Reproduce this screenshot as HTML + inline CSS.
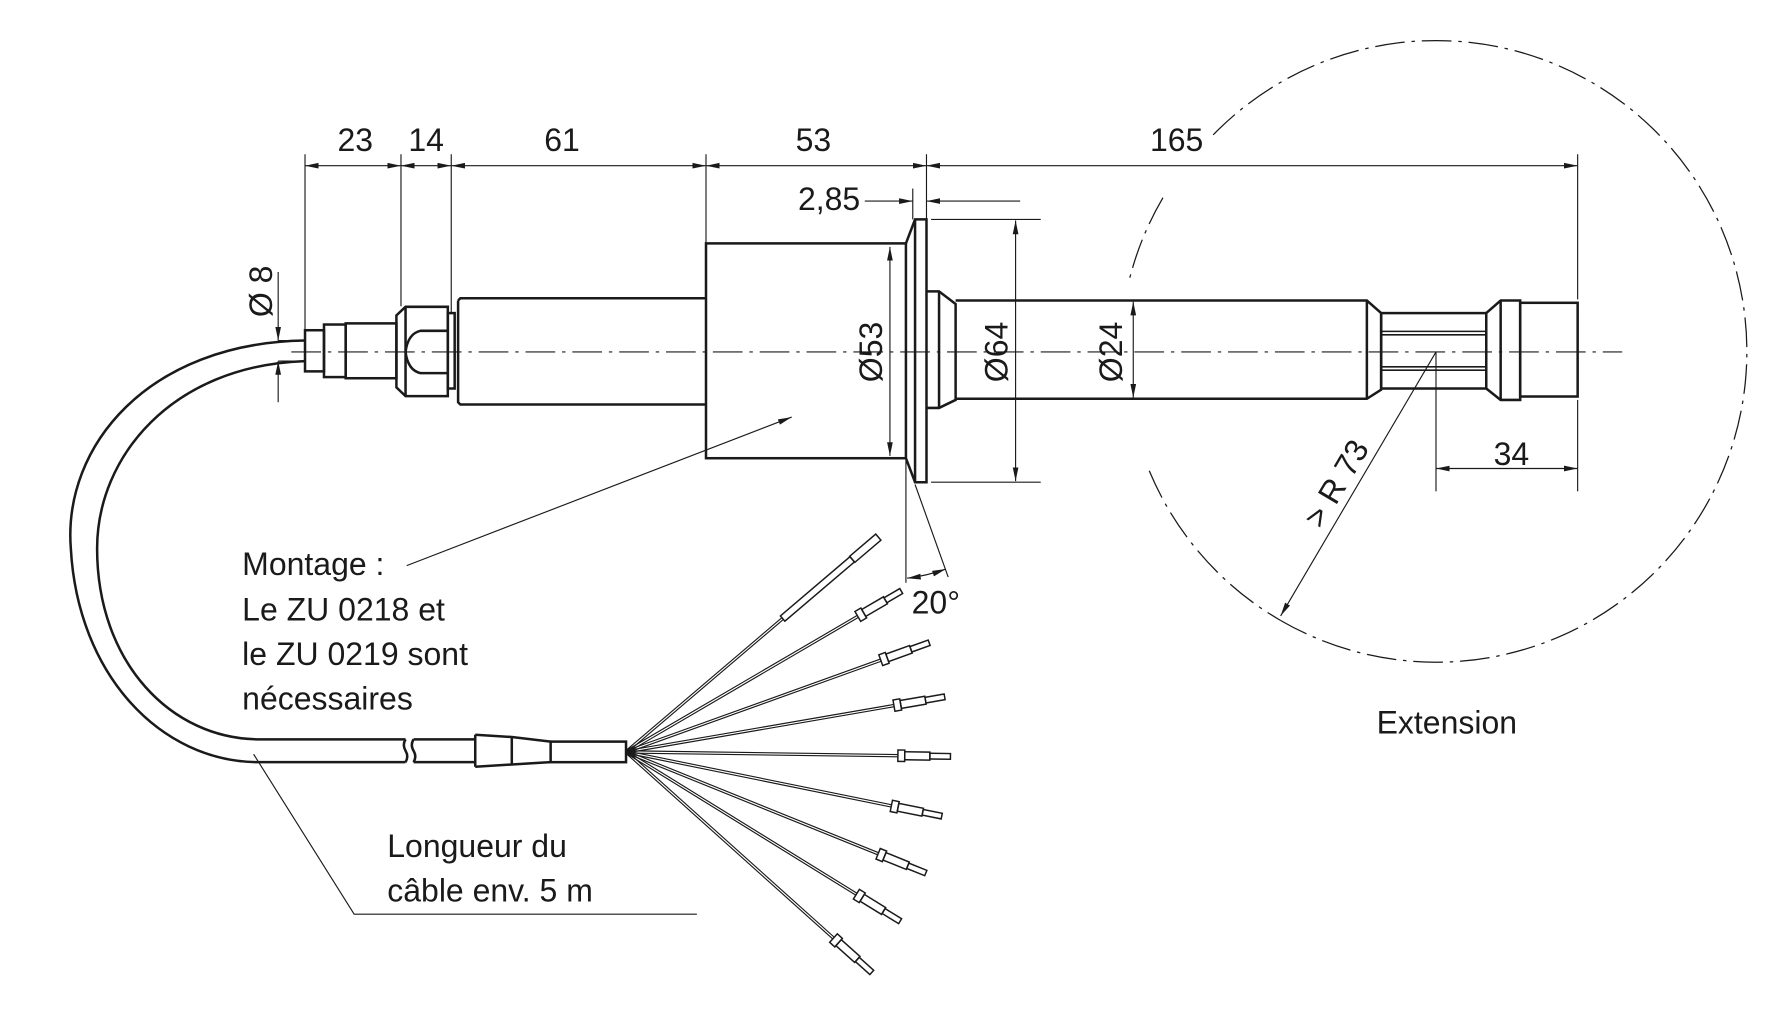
<!DOCTYPE html>
<html><head><meta charset="utf-8"><style>
html,body{margin:0;padding:0;background:#fff;}
svg{display:block}
text{font-family:"Liberation Sans",sans-serif;fill:#1a1a1a;font-size:28px}
</style></head><body>
<svg width="1773" height="1009" viewBox="0 0 1552 883" preserveAspectRatio="none" xmlns="http://www.w3.org/2000/svg">
<defs>
<marker id="a" viewBox="0 0 12 6" refX="12" refY="3" markerWidth="12" markerHeight="6" markerUnits="userSpaceOnUse" orient="auto-start-reverse"><path d="M0,0.5 L12,3 L0,5.5z" fill="#1a1a1a"/></marker>
</defs>
<g fill="none" stroke="#1a1a1a">
<!-- centerline -->
<line x1="255" y1="308" x2="1420" y2="308" stroke-width="1" stroke-dasharray="26 6 3 6"/>
<!-- cable end pieces -->
<g stroke-width="2.2">
<rect x="267" y="289" width="16.6" height="36"/>
<rect x="283.6" y="284" width="19" height="46"/>
<rect x="302.6" y="283" width="44.4" height="48"/>
<path d="M347,276 L355,268.5 L392,268.5 L392,346.7 L355,346.7 L347,339 Z"/>
<line x1="355" y1="268.5" x2="355" y2="346.7"/>
<path d="M392,289.5 L368,289.5 Q357,292 355,308 Q357,324 368,326.5 L392,326.5"/>
<rect x="392" y="274" width="6" height="66"/>
<path d="M401,263 L403,261 L618,261 M401,263 L401,352 L403,354 L618,354"/>
<rect x="618" y="213" width="175" height="188"/>
<path d="M793,213 L801,192 L811,192 L811,422 L801,422 L793,401"/>
<line x1="801" y1="192" x2="801" y2="422"/>
<!-- collar -->
<path d="M811,255 L822,255 L836.5,266 L836.5,350 L822,357 L811,357"/>
<line x1="822" y1="255" x2="822" y2="357"/>
<!-- tube -->
<path d="M836.5,263 L1196.5,263 L1209,274 L1209,341 L1196.5,349 L836.5,349"/>
<line x1="1196.5" y1="263" x2="1196.5" y2="349"/>
<rect x="1209" y="274" width="92" height="66"/>
<line x1="1209" y1="290" x2="1301" y2="290" stroke-width="1.4"/>
<line x1="1209" y1="293" x2="1301" y2="293" stroke-width="1.4"/>
<line x1="1209" y1="321" x2="1301" y2="321" stroke-width="1.4"/>
<line x1="1209" y1="324" x2="1301" y2="324" stroke-width="1.4"/>
<path d="M1301,274 L1313.6,263 L1330.7,263 L1330.7,350 L1313.6,350 L1301,340"/>
<line x1="1313.6" y1="263" x2="1313.6" y2="350"/>
<rect x="1330.7" y="265" width="50.3" height="82"/>
<!-- cable -->
<path d="M267,298 C130,300 55,390 62,480 C68,590 140,667 227,667 L355,667"/>
<path d="M267,316 C150,320 85,400 85,480 C85,580 150,647 227,647 L355,647"/>
<path d="M355,647 Q352,652 355,657 Q358,662 355,667"/>
<path d="M362,647 Q359,652 362,657 Q365,662 362,667 M362,647 L416,647 M362,667 L416,667"/>
<path d="M416,643 L448,645 L482,649 M416,671 L448,669 L482,667"/>
<line x1="416" y1="643" x2="416" y2="671"/>
<line x1="448" y1="645" x2="448" y2="669"/>
<rect x="482" y="649" width="66" height="18"/>
</g>
<!-- wires -->
<g stroke-width="1">
<g transform="translate(548,658) rotate(-40.4)"><line x1="0" y1="-1" x2="180" y2="-1"/><line x1="0" y1="1" x2="180" y2="1"/><rect x="180" y="-3" width="80" height="6" stroke-width="1.3"/><rect x="260" y="-3.5" width="30" height="7" stroke-width="1.3"/></g>
<g transform="translate(548,658) rotate(-30.3)"><line x1="0" y1="-1" x2="235" y2="-1"/><line x1="0" y1="1" x2="235" y2="1"/><rect x="235" y="-5" width="6" height="10" stroke-width="1.3"/><rect x="241" y="-3.5" width="22" height="7" stroke-width="1.3"/><rect x="263" y="-2.5" width="16" height="5" stroke-width="1.3"/></g>
<g transform="translate(548,658) rotate(-19.8)"><line x1="0" y1="-1" x2="237" y2="-1"/><line x1="0" y1="1" x2="237" y2="1"/><rect x="237" y="-5" width="6" height="10" stroke-width="1.3"/><rect x="243" y="-3.5" width="22" height="7" stroke-width="1.3"/><rect x="265" y="-2.5" width="17" height="5" stroke-width="1.3"/></g>
<g transform="translate(548,658) rotate(-9.8)"><line x1="0" y1="-1" x2="238" y2="-1"/><line x1="0" y1="1" x2="238" y2="1"/><rect x="238" y="-5" width="6" height="10" stroke-width="1.3"/><rect x="244" y="-3.5" width="22" height="7" stroke-width="1.3"/><rect x="266" y="-2.5" width="17" height="5" stroke-width="1.3"/></g>
<g transform="translate(548,658) rotate(0.8)"><line x1="0" y1="-1" x2="238" y2="-1"/><line x1="0" y1="1" x2="238" y2="1"/><rect x="238" y="-5" width="6" height="10" stroke-width="1.3"/><rect x="244" y="-3.5" width="22" height="7" stroke-width="1.3"/><rect x="266" y="-2.5" width="18" height="5" stroke-width="1.3"/></g>
<g transform="translate(548,658) rotate(11.5)"><line x1="0" y1="-1" x2="237" y2="-1"/><line x1="0" y1="1" x2="237" y2="1"/><rect x="237" y="-5" width="6" height="10" stroke-width="1.3"/><rect x="243" y="-3.5" width="22" height="7" stroke-width="1.3"/><rect x="265" y="-2.5" width="17" height="5" stroke-width="1.3"/></g>
<g transform="translate(548,658) rotate(22)"><line x1="0" y1="-1" x2="238" y2="-1"/><line x1="0" y1="1" x2="238" y2="1"/><rect x="238" y="-5" width="6" height="10" stroke-width="1.3"/><rect x="244" y="-3.5" width="22" height="7" stroke-width="1.3"/><rect x="266" y="-2.5" width="17" height="5" stroke-width="1.3"/></g>
<g transform="translate(548,658) rotate(31.7)"><line x1="0" y1="-1" x2="237" y2="-1"/><line x1="0" y1="1" x2="237" y2="1"/><rect x="237" y="-5" width="6" height="10" stroke-width="1.3"/><rect x="243" y="-3.5" width="22" height="7" stroke-width="1.3"/><rect x="265" y="-2.5" width="17" height="5" stroke-width="1.3"/></g>
<g transform="translate(548,658) rotate(41.9)"><line x1="0" y1="-1" x2="244" y2="-1"/><line x1="0" y1="1" x2="244" y2="1"/><rect x="244" y="-5" width="6" height="10" stroke-width="1.3"/><rect x="250" y="-3.5" width="22" height="7" stroke-width="1.3"/><rect x="272" y="-2.5" width="17" height="5" stroke-width="1.3"/></g>
</g>
<!-- dimensions -->
<g stroke-width="1">
<line x1="267" y1="135" x2="267" y2="289"/>
<line x1="351" y1="135" x2="351" y2="268"/>
<line x1="395" y1="135" x2="395" y2="274"/>
<line x1="618" y1="135" x2="618" y2="213"/>
<line x1="811" y1="135" x2="811" y2="192"/>
<line x1="799" y1="165" x2="799" y2="192"/>
<line x1="1381" y1="135" x2="1381" y2="262"/>
<line x1="267" y1="145" x2="351" y2="145" marker-start="url(#a)" marker-end="url(#a)"/>
<line x1="351" y1="145" x2="395" y2="145" marker-start="url(#a)" marker-end="url(#a)"/>
<line x1="395" y1="145" x2="618" y2="145" marker-start="url(#a)" marker-end="url(#a)"/>
<line x1="618" y1="145" x2="811" y2="145" marker-start="url(#a)" marker-end="url(#a)"/>
<line x1="811" y1="145" x2="1381" y2="145" marker-start="url(#a)" marker-end="url(#a)"/>
<line x1="757" y1="176" x2="799" y2="176" marker-end="url(#a)"/>
<line x1="893" y1="176" x2="811" y2="176" marker-end="url(#a)"/>
<!-- Ø8 -->
<line x1="243.5" y1="238" x2="243.5" y2="298" marker-end="url(#a)"/>
<line x1="243.5" y1="352" x2="243.5" y2="316" marker-end="url(#a)"/>
<line x1="243.5" y1="298" x2="267" y2="298"/>
<line x1="243.5" y1="316" x2="267" y2="316"/>
<!-- Ø53 -->
<line x1="779" y1="216" x2="779" y2="399" marker-start="url(#a)" marker-end="url(#a)"/>
<!-- Ø64 -->
<line x1="815" y1="192" x2="911" y2="192"/>
<line x1="815" y1="422" x2="911" y2="422"/>
<line x1="889" y1="193" x2="889" y2="421" marker-start="url(#a)" marker-end="url(#a)"/>
<!-- Ø24 -->
<line x1="992" y1="264" x2="992" y2="348" marker-start="url(#a)" marker-end="url(#a)"/>
<!-- 34 -->
<line x1="1257" y1="308" x2="1257" y2="430"/>
<line x1="1381" y1="350" x2="1381" y2="430"/>
<line x1="1257" y1="410" x2="1381" y2="410" marker-start="url(#a)" marker-end="url(#a)"/>
<!-- R73 -->
<line x1="1257" y1="308" x2="1121" y2="539" marker-end="url(#a)"/>
<!-- 20° -->
<line x1="793" y1="403" x2="793" y2="510"/>
<line x1="801" y1="424" x2="830" y2="505"/>
<path d="M794,506 Q811,504 828,498" marker-start="url(#a)" marker-end="url(#a)"/>
<!-- leaders -->
<line x1="356" y1="495" x2="693" y2="365" marker-end="url(#a)"/>
<polyline points="222,660 310,800 610,800"/>
</g>
<!-- extension circle -->
<g stroke-width="1.1" stroke-dasharray="26 6 3 6">
<path d="M1062,118 A272,272 0 1 1 1121,543"/>
<path d="M1006,412 A272,272 0 0 0 1121,543"/>
<path d="M1018,173 A272,272 0 0 0 988,247"/>
</g>
</g>
<!-- texts -->
<g>
<text x="311" y="132" text-anchor="middle">23</text>
<text x="373" y="132" text-anchor="middle">14</text>
<text x="492" y="132" text-anchor="middle">61</text>
<text x="712" y="132" text-anchor="middle">53</text>
<text x="1030" y="132" text-anchor="middle">165</text>
<text x="753" y="184" text-anchor="end">2,85</text>
<text transform="translate(238,255) rotate(-90)" text-anchor="middle">Ø 8</text>
<text transform="translate(772,308) rotate(-90)" text-anchor="middle">Ø53</text>
<text transform="translate(882,308) rotate(-90)" text-anchor="middle">Ø64</text>
<text transform="translate(982,308) rotate(-90)" text-anchor="middle">Ø24</text>
<text x="1323" y="407" text-anchor="middle">34</text>
<text transform="translate(1178,428) rotate(-59.4)" text-anchor="middle">&gt; R 73</text>
<text x="798" y="537">20°</text>
<text x="1205" y="642">Extension</text>
<text x="212" y="503">Montage :</text>
<text x="212" y="543">Le ZU 0218 et</text>
<text x="212" y="582">le ZU 0219 sont</text>
<text x="212" y="621">nécessaires</text>
<text x="339" y="750">Longueur du</text>
<text x="339" y="789">câble env. 5 m</text>
</g>
</svg>
</body></html>
